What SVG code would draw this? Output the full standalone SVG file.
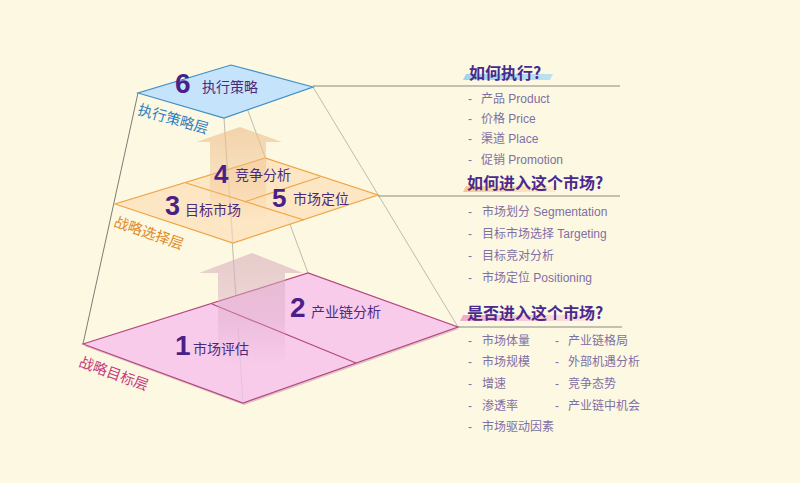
<svg xmlns="http://www.w3.org/2000/svg" width="800" height="483" viewBox="0 0 800 483">
<defs>
<style>
.num{font-family:"Liberation Sans","Noto Sans CJK SC",sans-serif;font-weight:bold;fill:#4b1f88}
.lbl{font-family:"Noto Sans CJK SC","Liberation Sans",sans-serif;font-size:14px;fill:#4b2a7e}
.layer{font-family:"Noto Sans CJK SC",sans-serif;font-size:14.5px}
.hd{font-family:"Noto Sans CJK SC","Liberation Sans",sans-serif;font-size:16px;font-weight:bold;fill:#4a2a8c}
.bl{font-family:"Liberation Sans","Noto Sans CJK SC",sans-serif;font-size:12px;fill:#7e70a6}
.rule{stroke:#8c8a80;stroke-width:1.2;fill:none}
.edge{stroke:#6e6e68;stroke-width:0.9;fill:none}
.edge2{stroke:#b0aca0;stroke-width:0.8;fill:none}
.front{stroke:#c8b8c0;stroke-width:0.7;fill:none;opacity:0.6}
</style>
<linearGradient id="gUp" x1="0" y1="0" x2="0" y2="1">
<stop offset="0" stop-color="#eebf8e" stop-opacity="0.65"/>
<stop offset="0.6" stop-color="#eebf8e" stop-opacity="0.38"/>
<stop offset="1" stop-color="#eebf8e" stop-opacity="0"/>
</linearGradient>
<linearGradient id="gLo" x1="0" y1="0" x2="0" y2="1">
<stop offset="0" stop-color="#d9b5bd" stop-opacity="0.65"/>
<stop offset="0.6" stop-color="#d9a8c4" stop-opacity="0.38"/>
<stop offset="1" stop-color="#d9a8c4" stop-opacity="0"/>
</linearGradient>
<linearGradient id="hBlue" x1="0" y1="0" x2="1" y2="0">
<stop offset="0" stop-color="#9fd3ee" stop-opacity="1"/>
<stop offset="1" stop-color="#b5def2" stop-opacity="0.9"/>
</linearGradient>
<linearGradient id="hOr" x1="0" y1="0" x2="1" y2="0">
<stop offset="0" stop-color="#f7c58e" stop-opacity="1"/>
<stop offset="1" stop-color="#f9d8b0" stop-opacity="0.35"/>
</linearGradient>
<linearGradient id="hPk" x1="0" y1="0" x2="1" y2="0">
<stop offset="0" stop-color="#f2aacb" stop-opacity="1"/>
<stop offset="1" stop-color="#f6c8dc" stop-opacity="0.4"/>
</linearGradient>
</defs>
<rect width="800" height="483" fill="#fdf8e1"/>

<g id="connectors">
<line class="edge" x1="138" y1="93" x2="83" y2="344"/>
<line class="edge2" x1="313" y1="87" x2="458" y2="327"/>
<line class="edge2" x1="231" y1="65" x2="308" y2="273"/>
<line class="edge2" x1="224" y1="118" x2="243" y2="403"/>
<line class="rule" x1="313" y1="86" x2="620" y2="86"/>
<line class="rule" x1="378" y1="196" x2="620" y2="196"/>
<line class="rule" x1="458" y1="327" x2="622" y2="327"/>
</g>

<g id="layer-goal">
<polygon points="84,346 244,405 459,329 309,275" fill="#b0608c" opacity="0.35"/>
<polygon points="83,344 243,403 458,327 308,273" fill="#f9cbeb" stroke="#b2477f" stroke-width="1.2"/>
<line x1="212" y1="304" x2="356" y2="363" stroke="#b2477f" stroke-width="1.2"/>
<line class="front" x1="238" y1="327" x2="243" y2="403"/>
</g>

<g id="arrow-lower">
<polygon points="252,253 303,273 285,273 285,365 218,365 218,273 199,273" fill="url(#gLo)"/>
</g>

<g id="node-1">
<text class="num" x="175" y="355" font-size="28">1</text>
<text class="lbl" x="193" y="354">市场评估</text>
</g>
<g id="node-2">
<text class="num" x="290" y="317" font-size="28">2</text>
<text class="lbl" x="311" y="317">产业链分析</text>
</g>
<text class="layer" fill="#c73c82" transform="translate(78,366) rotate(20)">战略目标层</text>

<g id="layer-choice">
<polygon points="115,204 233,243 378,195 265,158" fill="#fde3bd" fill-opacity="0.85" stroke="#f0a443" stroke-width="1.2"/>
<line x1="186" y1="183" x2="304" y2="220" stroke="#f0a443" stroke-width="1.2"/>
<line x1="244" y1="202" x2="320" y2="177" stroke="#f0a443" stroke-width="1.2"/>
<line class="front" x1="228" y1="170" x2="233" y2="243"/>
</g>

<g id="arrow-upper">
<polygon points="240,127 282,142 266,142 266,220 210,220 210,142 196,142" fill="url(#gUp)"/>
</g>

<g id="node-3">
<text class="num" x="165" y="215" font-size="27">3</text>
<text class="lbl" x="185" y="215">目标市场</text>
</g>
<g id="node-4">
<text class="num" x="214" y="183" font-size="26">4</text>
<text class="lbl" x="235" y="180">竞争分析</text>
</g>
<g id="node-5">
<text class="num" x="272" y="207" font-size="26">5</text>
<text class="lbl" x="293" y="204">市场定位</text>
</g>
<text class="layer" fill="#e08a28" transform="translate(113,226) rotate(19)">战略选择层</text>

<g id="layer-exec">
<polygon points="138,93 224,118 313,87 231,65" fill="#c5e3fb" stroke="#3d8fc6" stroke-width="1.2"/>
</g>
<g id="node-6">
<text class="num" x="175" y="93" font-size="28">6</text>
<text class="lbl" x="202" y="92">执行策略</text>
</g>
<text class="layer" fill="#2f80bd" transform="translate(137,114) rotate(16)">执行策略层</text>

<g id="q-exec">
<polygon points="466,74 553,74 550,80 463,80" fill="url(#hBlue)"/>
<text class="hd" x="469" y="79">如何执行?</text>
<text class="bl" x="468" y="102.5">-</text><text class="bl" x="481" y="102.5">产品 Product</text>
<text class="bl" x="468" y="122.5">-</text><text class="bl" x="481" y="122.5">价格 Price</text>
<text class="bl" x="468" y="142.5">-</text><text class="bl" x="481" y="142.5">渠道 Place</text>
<text class="bl" x="468" y="163.5">-</text><text class="bl" x="481" y="163.5">促销 Promotion</text>
</g>

<g id="q-enter">
<polygon points="466,186 558,186 555,192 463,192" fill="url(#hOr)"/>
<text class="hd" x="467" y="189">如何进入这个市场?</text>
<text class="bl" x="468" y="215.5">-</text><text class="bl" x="482" y="215.5">市场划分 Segmentation</text>
<text class="bl" x="468" y="237.5">-</text><text class="bl" x="482" y="237.5">目标市场选择 Targeting</text>
<text class="bl" x="468" y="259.5">-</text><text class="bl" x="482" y="259.5">目标竞对分析</text>
<text class="bl" x="468" y="281.5">-</text><text class="bl" x="482" y="281.5">市场定位 Positioning</text>
</g>

<g id="q-whether">
<polygon points="463,315 596,315 593,321 460,321" fill="url(#hPk)"/>
<text class="hd" x="467" y="319">是否进入这个市场?</text>
<text class="bl" x="468" y="344.5">-</text><text class="bl" x="482" y="344.5">市场体量</text>
<text class="bl" x="468" y="365.5">-</text><text class="bl" x="482" y="365.5">市场规模</text>
<text class="bl" x="468" y="387.5">-</text><text class="bl" x="482" y="387.5">增速</text>
<text class="bl" x="468" y="409.5">-</text><text class="bl" x="482" y="409.5">渗透率</text>
<text class="bl" x="468" y="430.5">-</text><text class="bl" x="482" y="430.5">市场驱动因素</text>
<text class="bl" x="555" y="344.5">-</text><text class="bl" x="568" y="344.5">产业链格局</text>
<text class="bl" x="555" y="365.5">-</text><text class="bl" x="568" y="365.5">外部机遇分析</text>
<text class="bl" x="555" y="387.5">-</text><text class="bl" x="568" y="387.5">竞争态势</text>
<text class="bl" x="555" y="409.5">-</text><text class="bl" x="568" y="409.5">产业链中机会</text>
</g>
</svg>
